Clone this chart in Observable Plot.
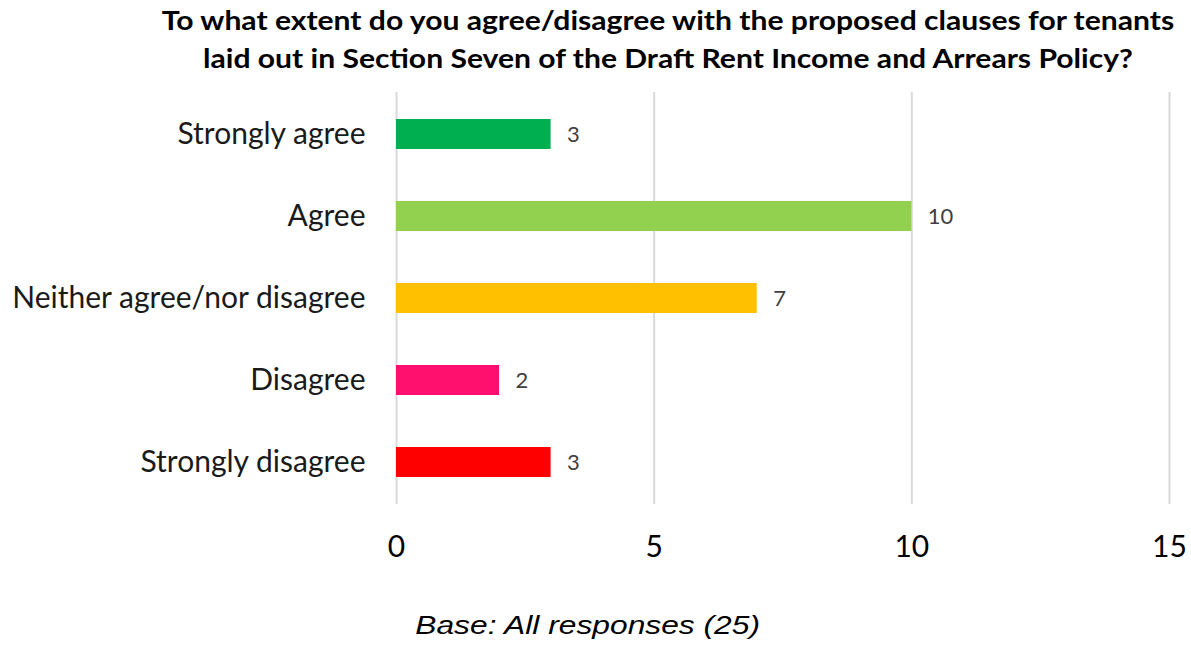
<!DOCTYPE html>
<html>
<head>
<meta charset="utf-8">
<script src="https://cdn.jsdelivr.net/npm/d3@7"></script>
<script src="https://cdn.jsdelivr.net/npm/@observablehq/plot@0.6"></script>
<style>
  html, body { margin: 0; padding: 0; background: #fff; }
  #wrap { position: relative; width: 1191px; height: 647px; overflow: hidden; }
  #title { position: absolute; left: 145px; width: 1046px; top: 1px; text-align: center;
    font-family: Lato, "Open Sans", sans-serif; font-weight: bold; font-size: 26px; line-height: 38px; color: #000;
    transform: scaleX(1.157); transform-origin: 523px 0; }
  #chart { position: absolute; left: 0; top: 88px; }
  #caption { position: absolute; left: 0; width: 1175px; top: 611px; text-align: center;
    font-family: "Liberation Sans", Arial, sans-serif; font-style: italic; font-size: 25px; color: #000;
    transform: scaleX(1.27); transform-origin: 587px 0; }
</style>
</head>
<body>
<div id="wrap">
  <div id="title">To what extent do you agree/disagree with the proposed clauses for tenants<br>laid out in Section Seven of the Draft Rent Income and Arrears Policy?</div>
  <div id="chart"></div>
  <div id="caption">Base: All responses (25)</div>
</div>
<script>
const categories = ["Strongly agree", "Agree", "Neither agree/nor disagree", "Disagree", "Strongly disagree"];
const counts = [3, 10, 7, 2, 3];
const colors = ["#00B050", "#92D050", "#FFC000", "#FF0F6E", "#FF0000"];
const xTicks = [0, 5, 10, 15];

const data = categories.map((c, i) => ({category: c, value: counts[i], color: colors[i]}));

const chart = Plot.plot({
  width: 1191,
  height: 530,
  marginLeft: 396,
  marginRight: 22,
  marginTop: 4,
  marginBottom: 114,
  style: {fontFamily: "Lato, 'Open Sans', sans-serif", background: "#fff"},
  x: {domain: [0, 15], ticks: xTicks, label: null, tickSize: 0, tickPadding: 31, tickFormat: d => String(d)},
  y: {domain: categories, paddingInner: 0.636, paddingOuter: 0.318, label: null, tickSize: 0, tickPadding: 31},
  marks: [
    Plot.gridX(xTicks, {stroke: "#d9d9d9", strokeOpacity: 1, strokeWidth: 2}),
    Plot.barX(data, {x: "value", y: "category", fill: "color"}),
    Plot.text(data, {x: "value", y: "category", text: d => String(d.value), dx: 16, textAnchor: "start", fontSize: 22, fill: "#404040"}),
    Plot.axisX({ticks: xTicks, tickSize: 0, tickPadding: 31, fontSize: 30, color: "#000", label: null, tickFormat: d => String(d)}),
    Plot.axisY({tickSize: 0, tickPadding: 31, fontSize: 30, color: "#1a1a1a", label: null})
  ]
});
document.getElementById("chart").appendChild(chart);
</script>
</body>
</html>
